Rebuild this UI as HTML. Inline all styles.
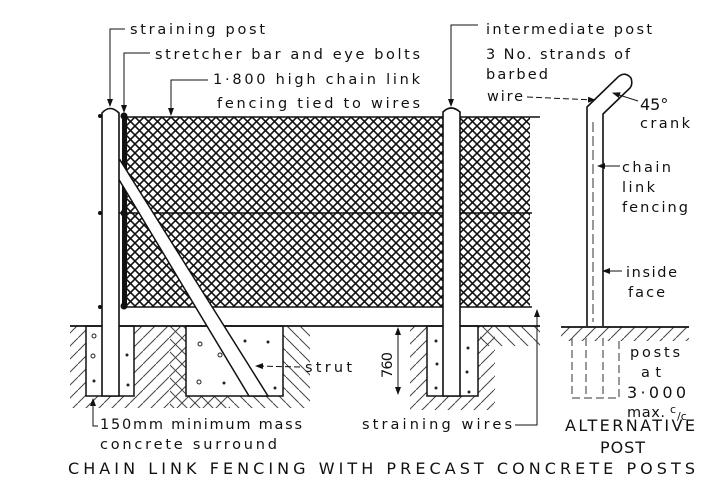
<!DOCTYPE html>
<html><head><meta charset="utf-8"><style>
html,body{margin:0;padding:0;background:#fff;}
svg{display:block;}
text{font-family:"DejaVu Sans","Liberation Sans",sans-serif;font-size:14.5px;fill:#111;}
</style></head><body>
<svg width="711" height="487" viewBox="0 0 711 487" xmlns="http://www.w3.org/2000/svg">
<defs>
<pattern id="mesh" width="9" height="9" patternUnits="userSpaceOnUse">
<path d="M-1,-1 L10,10 M-1,10 L10,-1" stroke="#111" stroke-width="1.6"/>
</pattern>
<pattern id="hatch" width="13" height="13" patternUnits="userSpaceOnUse">
<path d="M0,13 L13,0" stroke="#444" stroke-width="1"/>
</pattern>
<pattern id="hatch2" width="13" height="13" patternUnits="userSpaceOnUse">
<path d="M0,0 L13,13" stroke="#444" stroke-width="1"/>
</pattern>
<marker id="ar" markerWidth="8" markerHeight="8" refX="7" refY="4" orient="auto" markerUnits="userSpaceOnUse">
<path d="M0,1 L8,4 L0,7 Z" fill="#111"/>
</marker>
</defs>

<rect x="70" y="326" width="160" height="82" fill="url(#hatch)"/>
<rect x="170" y="326" width="140" height="82" fill="url(#hatch2)"/>
<rect x="410" y="326" width="85" height="84" fill="url(#hatch)"/>
<rect x="480" y="326" width="60" height="20" fill="url(#hatch2)"/>
<rect x="561" y="327" width="128" height="14" fill="url(#hatch)"/>
<rect x="86" y="326" width="48" height="70" fill="#fff"/>
<rect x="186" y="326" width="97" height="70" fill="#fff"/>
<rect x="427" y="326" width="51" height="70" fill="#fff"/>

<rect x="127" y="117" width="403" height="190" fill="url(#mesh)"/>
<line x1="125" y1="117" x2="540" y2="117" stroke="#111" stroke-width="1.5"/>
<line x1="118" y1="213" x2="532" y2="213" stroke="#111" stroke-width="1.5"/>
<line x1="125" y1="307" x2="532" y2="307" stroke="#111" stroke-width="1.5"/>
<rect x="122" y="114" width="5" height="194" fill="#111"/>
<circle cx="124" cy="116" r="3.5" fill="#111"/><circle cx="124" cy="213" r="3.5" fill="#111"/><circle cx="124" cy="306" r="3.5" fill="#111"/>

<line x1="70" y1="326" x2="540" y2="326" stroke="#111" stroke-width="1.8"/>
<line x1="561" y1="327" x2="689" y2="327" stroke="#111" stroke-width="1.8"/>

<rect x="86" y="326" width="48" height="70" fill="none" stroke="#111" stroke-width="1.5"/>
<rect x="186" y="326" width="97" height="70" fill="none" stroke="#111" stroke-width="1.5"/>
<rect x="427" y="326" width="51" height="70" fill="none" stroke="#111" stroke-width="1.5"/>
<g fill="none" stroke="#222" stroke-width="1">
<circle cx="94" cy="336" r="2"/><circle cx="93" cy="356" r="2"/><circle cx="200" cy="344" r="2"/><circle cx="220" cy="355" r="2"/><circle cx="199" cy="382" r="2"/>
</g>
<g fill="#222">
<circle cx="127" cy="355" r="1.5"/><circle cx="128" cy="385" r="1.5"/><circle cx="94" cy="381" r="1.5"/><circle cx="245" cy="341" r="1.5"/><circle cx="268" cy="342" r="1.5"/><circle cx="224" cy="383" r="1.5"/><circle cx="275" cy="388" r="1.5"/>
<circle cx="436" cy="341" r="1.5"/><circle cx="437" cy="364" r="1.5"/><circle cx="436" cy="388" r="1.5"/><circle cx="468" cy="348" r="1.5"/><circle cx="467" cy="372" r="1.5"/><circle cx="469" cy="392" r="1.5"/>
</g>

<polygon points="112,168 120,160 268,396 249,396" fill="#fff" stroke="#111" stroke-width="1.5"/>
<path d="M102,396 L102,113 Q110,104 119,113 L119,396 Z" fill="#fff" stroke="#111" stroke-width="1.6"/>
<g fill="#111"><circle cx="100" cy="116" r="2"/><circle cx="100" cy="213" r="2"/><circle cx="100" cy="307" r="2"/></g>

<path d="M443,396 L443,112 Q451,104 460,112 L460,396 Z" fill="#fff" stroke="#111" stroke-width="1.6"/>

<path d="M587,326 L587,107 L616,79 Q624,70 631,78 Q633,84 630,88 L603,114 L603,326" fill="#fff" stroke="#111" stroke-width="1.6"/>
<line x1="593" y1="122" x2="593" y2="322" stroke="#333" stroke-width="1" stroke-dasharray="10,4"/>
<g fill="none" stroke="#333" stroke-width="1" stroke-dasharray="8,4">
<path d="M572,338 L572,398 L619,398 L619,338"/>
<line x1="586" y1="338" x2="586" y2="398"/><line x1="603" y1="338" x2="603" y2="398"/>
</g>

<g fill="none" stroke="#111" stroke-width="1">
<path d="M125,29 L110,29 L110,106" marker-end="url(#ar)"/>
<path d="M150,53 L124,53 L124,112" marker-end="url(#ar)"/>
<path d="M208,80 L171,80 L171,115" marker-end="url(#ar)"/>
<path d="M478,25 L451,25 L451,106" marker-end="url(#ar)"/>
<path d="M527,97 L595,100" stroke-dasharray="6,3" marker-end="url(#ar)"/>
<path d="M638,101 L613,93" marker-end="url(#ar)"/>
<path d="M620,166 L598,166" marker-end="url(#ar)"/>
<path d="M622,271 L603,271" marker-end="url(#ar)"/>
<path d="M300,367 L256,366" stroke-dasharray="6,3" marker-end="url(#ar)"/>
<path d="M398,361 L398,328" marker-end="url(#ar)"/>
<path d="M398,361 L398,394" marker-end="url(#ar)"/>
<path d="M515,425 L537,425 L537,310" marker-end="url(#ar)"/>
<path d="M98,426 L93,426 L93,399" marker-end="url(#ar)"/>
</g>

<text x="130" y="34" textLength="135">straining post</text>
<text x="155" y="59" textLength="265">stretcher bar and eye bolts</text>
<text x="213" y="84" textLength="207">1·800 high chain link</text>
<text x="217" y="108" textLength="203">fencing tied to wires</text>
<text x="486" y="34" textLength="166">intermediate post</text>
<text x="486" y="59" textLength="144">3 No. strands of</text>
<text x="486" y="79" textLength="62">barbed</text>
<text x="487" y="101" textLength="36">wire</text>
<text x="640" y="110" style="font-size:16px">45°</text>
<text x="640" y="128" textLength="50">crank</text>
<text x="622" y="172" textLength="49">chain</text>
<text x="622" y="192" textLength="33">link</text>
<text x="622" y="212" textLength="66">fencing</text>
<text x="626" y="277" textLength="51">inside</text>
<text x="628" y="297" textLength="37">face</text>
<text x="630" y="357" textLength="50">posts</text>
<text x="641" y="377" textLength="20">at</text>
<text x="627" y="398" textLength="59" style="font-size:16px">3·000</text>
<text x="627" y="417" textLength="38">max.</text>
<text x="670" y="413" style="font-size:11px">c</text><text x="677" y="420" style="font-size:11px">/c</text>
<text x="305" y="372" textLength="47">strut</text>
<text transform="translate(392,378) rotate(-90)" textLength="26">760</text>
<text x="100" y="429" textLength="202">150mm minimum mass</text>
<text x="100" y="449" textLength="177">concrete surround</text>
<text x="362" y="429" textLength="150">straining wires</text>
<text x="565" y="431" textLength="130" style="font-size:16px">ALTERNATIVE</text>
<text x="600" y="453" textLength="45" style="font-size:16px">POST</text>
<text x="68" y="474" textLength="627" style="font-size:16px">CHAIN LINK FENCING WITH PRECAST CONCRETE POSTS</text>
</svg>
</body></html>
